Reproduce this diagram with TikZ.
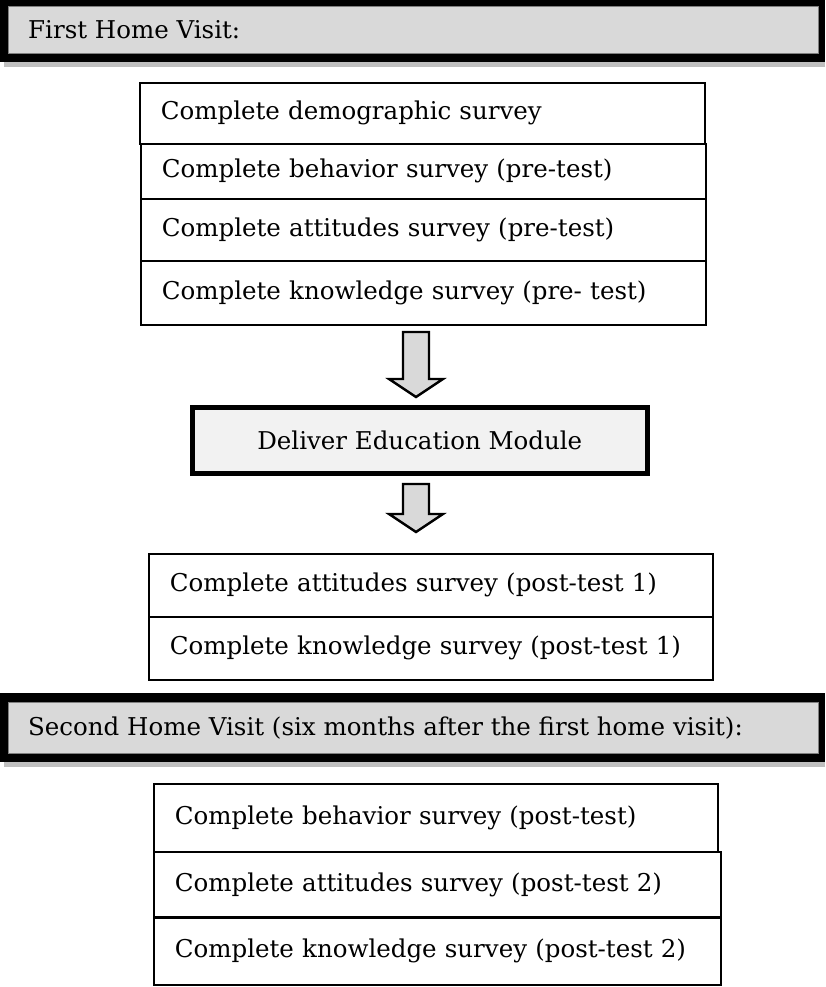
\documentclass[tikz,border=0pt]{standalone}
\usepackage{fontspec}
\setmainfont{DejaVu Serif}
\definecolor{hdrgray}{HTML}{D9D9D9}
\definecolor{shadowgray}{HTML}{BFBFBF}
\definecolor{modgray}{HTML}{F2F2F2}
\definecolor{edgegray}{HTML}{7F7F7F}
\begin{document}
\begin{tikzpicture}[x=1pt,y=1pt,
  every node/.style={font=\fontsize{24.5}{28}\selectfont},
  row/.style={draw=black, line width=1.8pt, anchor=north west, align=left,
              inner xsep=21pt, inner ysep=0pt},
  hdrtext/.style={anchor=west, inner sep=0pt},
  blockarrow/.style={draw=black, fill=hdrgray, line width=2.4pt, line join=miter},
  module/.style={draw=black, fill=modgray, line width=4.5pt, inner sep=0pt}
]
\useasboundingbox (0,0) rectangle (825,-987);

% ---------- Header 1 ----------
\fill[shadowgray] (4,-58) rectangle (825,-67);
\fill[black] (0,0) rectangle (825,-62);
\draw[edgegray, fill=hdrgray, line width=0.8pt] (8,-6) rectangle (818,-53);
\node[hdrtext] (h1) at (28,-30) {First Home Visit:};

% ---------- Group 1 ----------
\node[row, text width=523pt, minimum height=61pt] (d1) at (139,-82) {Complete demographic survey};
\node[row, text width=523pt, minimum height=55pt] (d2) at (140,-143) {Complete behavior survey (pre-test)};
\node[row, text width=523pt, minimum height=62pt] (d3) at (140,-198) {Complete attitudes survey (pre-test)};
\node[row, text width=523pt, minimum height=64pt] (d4) at (140,-260) {Complete knowledge survey (pre- test)};

% ---------- Arrow 1 ----------
\draw[blockarrow] (403,-332) -- (429,-332) -- (429,-379) -- (443,-379) -- (416,-397)
   -- (389,-379) -- (403,-379) -- cycle;

% ---------- Module ----------
\node[module, minimum width=455pt, minimum height=66pt, anchor=north west] (m) at (190,-405) {Deliver Education Module};

% ---------- Arrow 2 ----------
\draw[blockarrow] (403,-484) -- (429,-484) -- (429,-514) -- (443,-514) -- (416,-532)
   -- (389,-514) -- (403,-514) -- cycle;

% ---------- Group 2 ----------
\node[row, text width=522pt, minimum height=63pt] (p1) at (148,-553) {Complete attitudes survey (post-test 1)};
\node[row, text width=522pt, minimum height=63pt] (p2) at (148,-616) {Complete knowledge survey (post-test 1)};

% ---------- Header 2 ----------
\fill[shadowgray] (4,-758) rectangle (825,-767);
\fill[black] (0,-693) rectangle (825,-762);
\draw[edgegray, fill=hdrgray, line width=0.8pt] (8,-702) rectangle (818,-753);
\node[hdrtext] (h2) at (28,-728) {Second Home Visit (six months after the first home visit):};

% ---------- Group 3 ----------
\node[row, text width=522pt, minimum height=68pt] (s1) at (153,-783) {Complete behavior survey (post-test)};
\node[row, text width=525pt, minimum height=66pt] (s2) at (153,-851) {Complete attitudes survey (post-test 2)};
\node[row, text width=525pt, minimum height=68pt] (s3) at (153,-916) {Complete knowledge survey (post-test 2)};
\end{tikzpicture}
\end{document}
